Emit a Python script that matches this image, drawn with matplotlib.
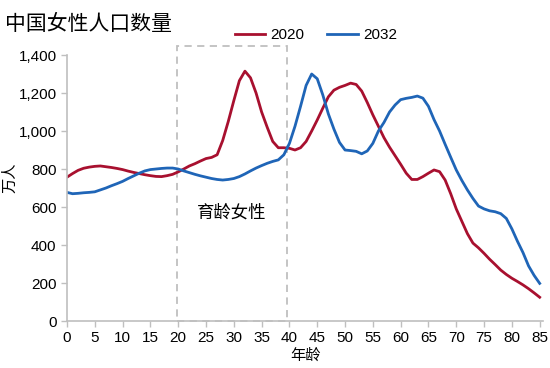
import numpy as np
import matplotlib.pyplot as plt
from matplotlib.patches import Rectangle

plt.rcParams['font.family'] = ['Liberation Sans', 'Noto Sans CJK SC', 'DejaVu Sans']

ages = np.arange(0, 86)

pop_2020 = [757, 776, 793, 804, 810, 814, 816, 812, 808, 803,
            797, 789, 782, 776, 770, 765, 761, 760, 765, 772,
            785, 800, 816, 828, 842, 855, 861, 875, 950, 1050,
            1160, 1265, 1315, 1280, 1200, 1100, 1020, 945, 912, 912,
            909, 900, 912, 945, 1000, 1058, 1120, 1180, 1215, 1230,
            1240, 1252, 1245, 1210, 1150, 1085, 1025, 965, 915, 870,
            825, 778, 745, 745, 760, 778, 795, 786, 742, 670,
            590, 525, 460, 410, 385, 356, 325, 297, 268, 245,
            225, 208, 190, 170, 148, 125]

pop_2032 = [677, 670, 672, 675, 677, 680, 690, 700, 712, 723,
            735, 750, 764, 778, 790, 797, 800, 803, 805, 805,
            800, 790, 781, 772, 764, 757, 750, 745, 742, 745,
            750, 760, 774, 790, 805, 818, 830, 840, 848, 875,
            935, 1025, 1130, 1240, 1300, 1275, 1190, 1090, 1010, 940,
            900, 897, 893, 880, 895, 935, 1000, 1045, 1100, 1137,
            1165, 1172, 1177, 1184, 1173, 1130, 1060, 1000, 930, 862,
            795, 740, 690, 645, 605, 590, 580, 575, 565, 540,
            485, 420, 360, 290, 240, 198]

box_start, box_end = 19.8, 39.5

fig = plt.figure(figsize=(5.5, 3.68), dpi=100)
ax = fig.add_axes([0.1218, 0.1277, 0.8655, 0.7228])

ax.plot(ages, pop_2020, color='#A8102F', lw=2.0, label='2020')
ax.plot(ages, pop_2032, color='#1F65B7', lw=2.0, label='2032')

# dashed box for child-bearing ages
ax.add_patch(Rectangle((box_start, 2), box_end - box_start, 1445, fill=False,
                       ec='#BFBFBF', ls=(0, (4, 3)), lw=1.3, clip_on=False))
ax.text((box_start + box_end) / 2, 570, '育龄女性', ha='center', va='center',
        fontsize=12.5, family=['Noto Sans CJK SC'])

ax.set_xlim(0, 85.6)
ax.set_ylim(0, 1400)
ax.set_xticks(np.arange(0, 86, 5))
ax.set_yticks(np.arange(0, 1401, 200))
ax.yaxis.set_major_formatter(plt.FuncFormatter(lambda v, p: f'{int(v):,}'))
ax.tick_params(labelsize=11, color='#BFBFBF', length=4, width=1)

for s in ['top', 'right']:
    ax.spines[s].set_visible(False)
for s in ['left', 'bottom']:
    ax.spines[s].set_color('#BFBFBF')
    ax.spines[s].set_linewidth(1.2)

ax.set_ylabel('万人', fontsize=11, family=['Noto Sans CJK SC'])
ax.yaxis.set_label_coords(-0.103, 0.54)
ax.set_xlabel('年龄', fontsize=11, family=['Noto Sans CJK SC'], labelpad=1)

fig.text(0.009, 0.965, '中国女性人口数量', fontsize=15, va='top',
         family=['Noto Sans CJK SC'])
ax.legend(loc='center', bbox_to_anchor=(0.523, 1.075), ncol=2, frameon=False,
          fontsize=11, handlelength=2.0, columnspacing=1.5, handletextpad=0.35,
          borderpad=0, borderaxespad=0)

fig.savefig('out.png', dpi=100)
